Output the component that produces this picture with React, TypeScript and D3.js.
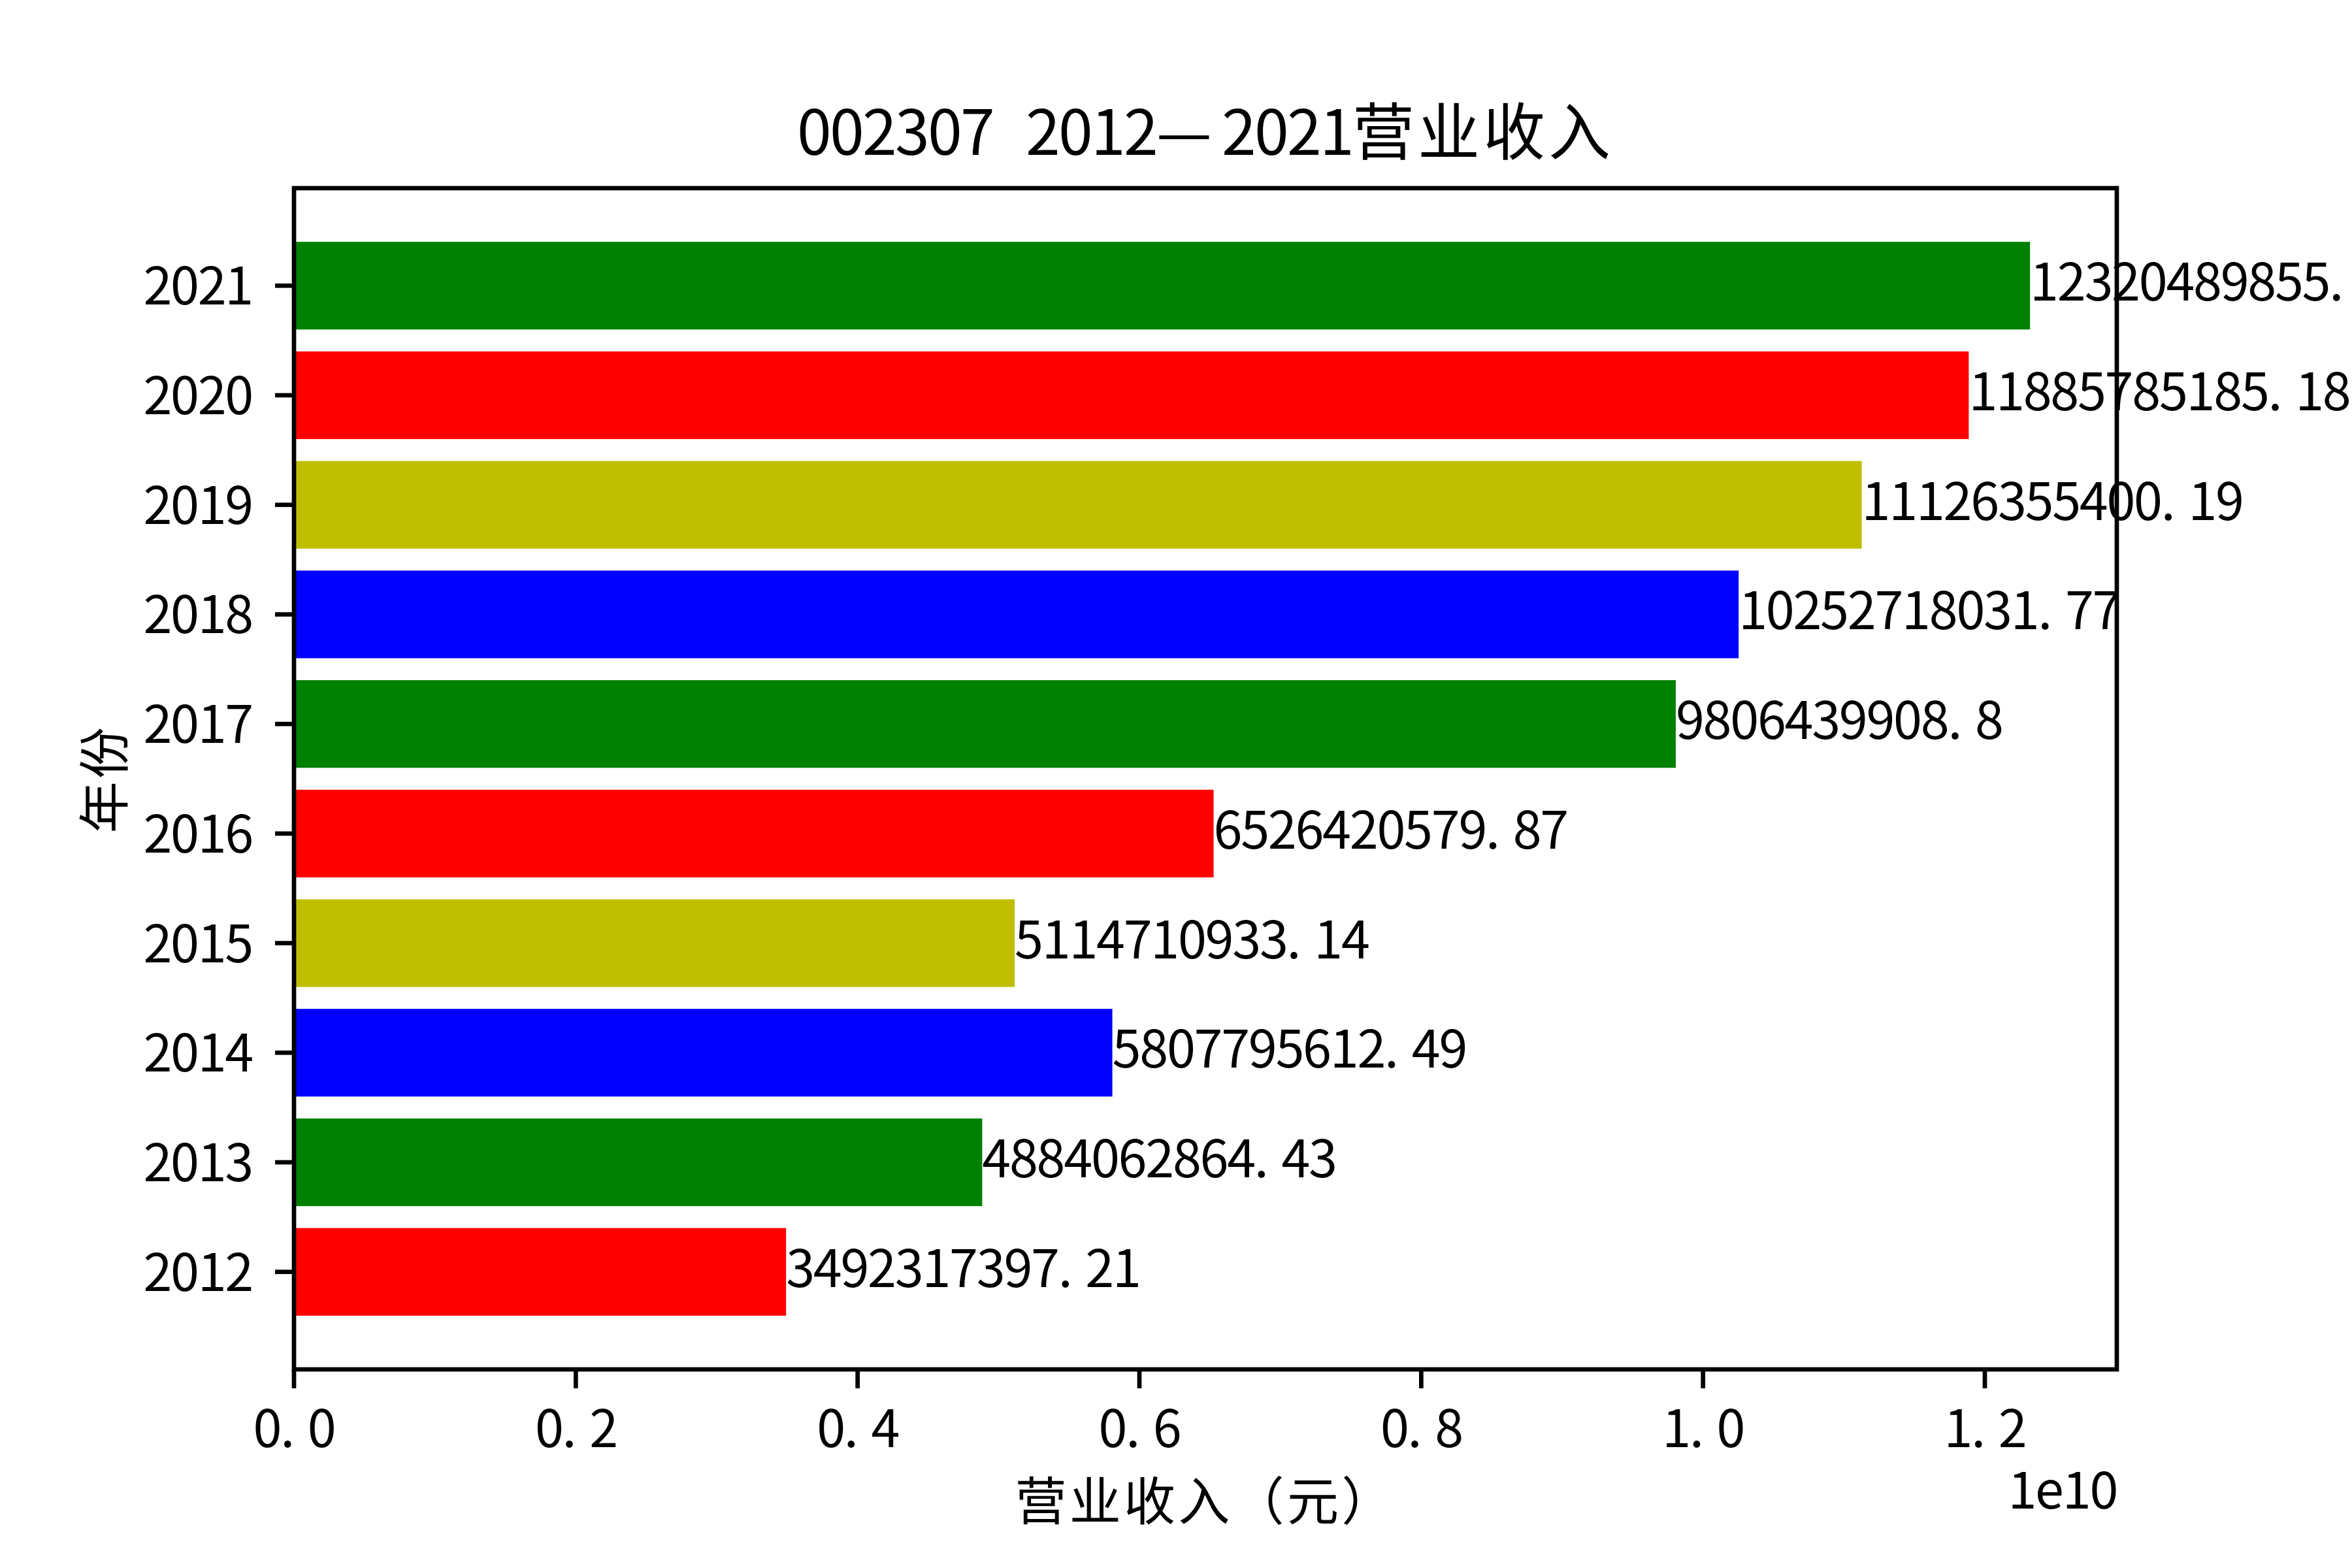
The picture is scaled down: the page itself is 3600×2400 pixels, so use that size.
import React, { useLayoutEffect } from "react";
import * as d3 from "d3";

// ---- data ----
const years = ["2012", "2013", "2014", "2015", "2016", "2017", "2018", "2019", "2020", "2021"];
const revenue = [
  3492317397.21, 4884062864.43, 5807795612.49, 5114710933.14, 6526420579.87,
  9806439908.8, 10252718031.77, 11126355400.19, 11885785185.18, 12320489855,
];
const valueLabels = [
  "3492317397.21", "4884062864.43", "5807795612.49", "5114710933.14", "6526420579.87",
  "9806439908.8", "10252718031.77", "11126355400.19", "11885785185.18", "12320489855.",
];
const barColors = ["#ff0000", "#008000", "#0000ff", "#bfbf00"];
const xTickValues = [0, 0.2e10, 0.4e10, 0.6e10, 0.8e10, 1.0e10, 1.2e10];
const titleText = "002307 2012—2021营业收入";
const xLabelText = "营业收入（元）";
const yLabelText = "年份";
const offsetText = "1e10";

// ---- layout ----
const W = 3600;
const H = 2400;
const L = 450;
const R = 3240;
const T = 288;
const B = 2096;
const FS = 83.3;
const TITLE_FS = 100;
const GLYPH_SCALE = 0.95;
const LW = 6.7;
const TICK = 29;
const FONT = "'Noto Sans CJK SC', 'Noto Sans', sans-serif";

function cellWidths(text: string, fs: number) {
  return Array.from(text).map((c) => (c.charCodeAt(0) < 128 ? 0.5 * fs : fs));
}

function CellText(props: {
  x: number;
  y: number;
  text: string;
  fs: number;
  anchor?: "start" | "middle" | "end";
  transform?: string;
}) {
  const { x, y, text, fs, anchor = "start", transform } = props;
  const ws = cellWidths(text, fs);
  const total = ws.reduce((a, b) => a + b, 0);
  const start = x - total * (anchor === "middle" ? 0.5 : anchor === "end" ? 1 : 0);
  const xs: number[] = [];
  let acc = start;
  for (const w of ws) {
    xs.push(acc);
    acc += w;
  }
  return (
    <text
      x={xs.map((v) => v.toFixed(1)).join(" ")}
      y={y}
      fontSize={fs * GLYPH_SCALE}
      fontFamily={FONT}
      fill="#000"
      transform={transform}
    >
      {text}
    </text>
  );
}

export default function App() {
  useLayoutEffect(() => {
    document.body.style.margin = "0";
    document.body.style.overflow = "hidden";
  }, []);

  const xMax = (d3.max(revenue) as number) * 1.05;
  const x = d3.scaleLinear().domain([0, xMax]).range([L, R]);
  const n = years.length;
  const barH = 0.8;
  const yPad = (n - 1 + barH) * 0.05;
  const y = d3
    .scaleLinear()
    .domain([-barH / 2 - yPad, n - 1 + barH / 2 + yPad])
    .range([B, T]);
  const fmt = d3.format(".1f");

  return (
    <svg width={W} height={H} style={{ display: "block", background: "#fff" }}>
      <rect x={0} y={0} width={W} height={H} fill="#fff" />
      {/* bars */}
      {revenue.map((v, i) => (
        <rect
          key={"b" + i}
          x={x(0)}
          y={y(i + barH / 2)}
          width={x(v) - x(0)}
          height={y(i - barH / 2) - y(i + barH / 2)}
          fill={barColors[i % barColors.length]}
        />
      ))}
      {/* spines */}
      <rect x={L} y={T} width={R - L} height={B - T} fill="none" stroke="#000" strokeWidth={LW} />
      {/* y ticks */}
      {years.map((yr, i) => (
        <g key={"yt" + i}>
          <line x1={L - TICK} x2={L} y1={y(i)} y2={y(i)} stroke="#000" strokeWidth={LW} />
          <CellText x={386} y={y(i) + 29} text={yr} fs={FS} anchor="end" />
        </g>
      ))}
      {/* x ticks */}
      {xTickValues.map((t, i) => (
        <g key={"xt" + i}>
          <line x1={x(t)} x2={x(t)} y1={B} y2={B + TICK} stroke="#000" strokeWidth={LW} />
          <CellText x={x(t)} y={2215} text={fmt(t / 1e10)} fs={FS} anchor="middle" />
        </g>
      ))}
      {/* value labels */}
      {revenue.map((v, i) => (
        <CellText key={"v" + i} x={x(v)} y={y(i) + 23} text={valueLabels[i]} fs={FS} anchor="start" />
      ))}
      {/* offset text */}
      <CellText x={R} y={2309} text={offsetText} fs={FS} anchor="end" />
      {/* axis labels */}
      <CellText x={(L + R) / 2} y={2327} text={xLabelText} fs={FS} anchor="middle" />
      <CellText
        x={0}
        y={0}
        text={yLabelText}
        fs={FS}
        anchor="middle"
        transform={`translate(189,${(T + B) / 2}) rotate(-90)`}
      />
      {/* title */}
      <CellText x={(L + R) / 2} y={237} text={titleText} fs={TITLE_FS} anchor="middle" />
    </svg>
  );
}
